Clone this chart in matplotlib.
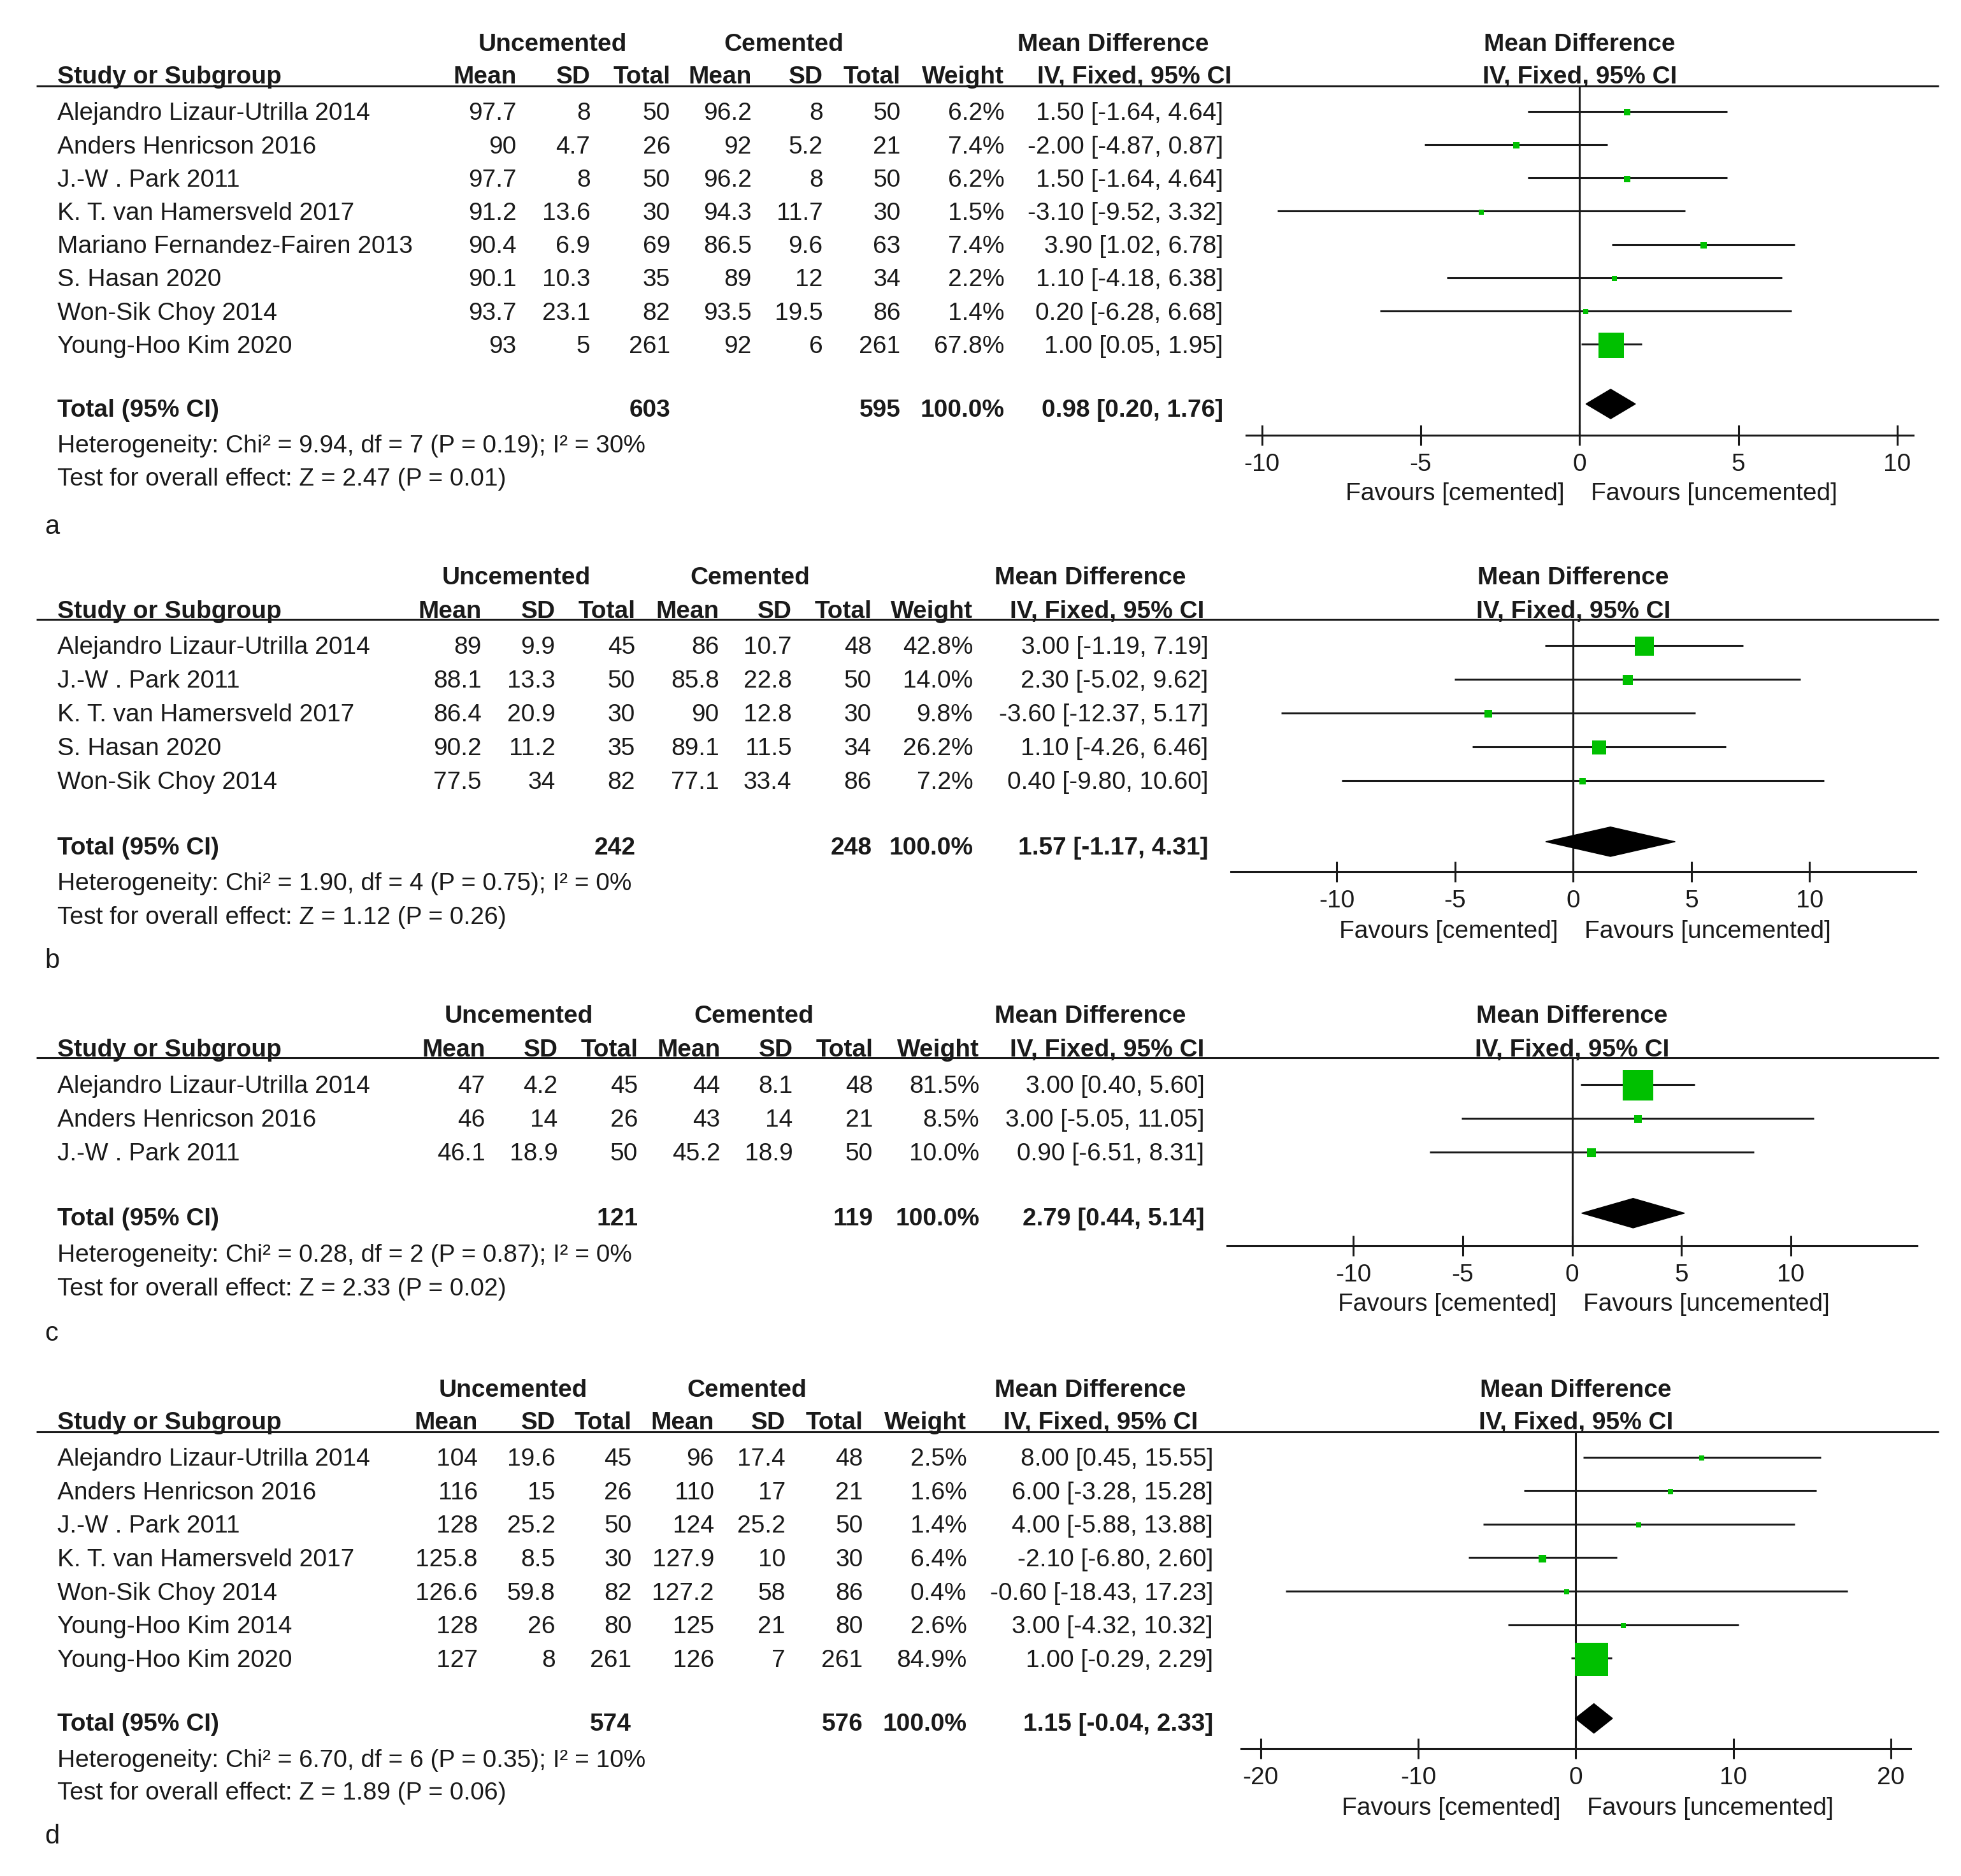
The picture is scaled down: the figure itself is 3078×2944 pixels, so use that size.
import matplotlib
matplotlib.use("Agg")
import matplotlib.pyplot as plt
from matplotlib.patches import Polygon

plt.rcParams['font.family'] = ['Liberation Sans', 'DejaVu Sans']
plt.rcParams['axes.unicode_minus'] = False

# ==========================
# DATA
# ==========================

# panel a
studies_a = ["Alejandro Lizaur-Utrilla 2014", "Anders Henricson 2016", "J.-W . Park 2011",
             "K. T. van Hamersveld 2017", "Mariano Fernandez-Fairen 2013", "S. Hasan 2020",
             "Won-Sik Choy 2014", "Young-Hoo Kim 2020"]
unc_mean_a = ["97.7", "90", "97.7", "91.2", "90.4", "90.1", "93.7", "93"]
unc_sd_a = ["8", "4.7", "8", "13.6", "6.9", "10.3", "23.1", "5"]
unc_n_a = [50, 26, 50, 30, 69, 35, 82, 261]
cem_mean_a = ["96.2", "92", "96.2", "94.3", "86.5", "89", "93.5", "92"]
cem_sd_a = ["8", "5.2", "8", "11.7", "9.6", "12", "19.5", "6"]
cem_n_a = [50, 21, 50, 30, 63, 34, 86, 261]
weight_a = [6.2, 7.4, 6.2, 1.5, 7.4, 2.2, 1.4, 67.8]
md_a = [1.50, -2.00, 1.50, -3.10, 3.90, 1.10, 0.20, 1.00]
lo_a = [-1.64, -4.87, -1.64, -9.52, 1.02, -4.18, -6.28, 0.05]
hi_a = [4.64, 0.87, 4.64, 3.32, 6.78, 6.38, 6.68, 1.95]
total_a = [603, 595, 0.98, 0.20, 1.76]
het_a = "Heterogeneity: Chi² = 9.94, df = 7 (P = 0.19); I² = 30%"
test_a = "Test for overall effect: Z = 2.47 (P = 0.01)"
ticks_a = [-10, -5, 0, 5, 10]

# panel b
studies_b = ["Alejandro Lizaur-Utrilla 2014", "J.-W . Park 2011", "K. T. van Hamersveld 2017",
             "S. Hasan 2020", "Won-Sik Choy 2014"]
unc_mean_b = ["89", "88.1", "86.4", "90.2", "77.5"]
unc_sd_b = ["9.9", "13.3", "20.9", "11.2", "34"]
unc_n_b = [45, 50, 30, 35, 82]
cem_mean_b = ["86", "85.8", "90", "89.1", "77.1"]
cem_sd_b = ["10.7", "22.8", "12.8", "11.5", "33.4"]
cem_n_b = [48, 50, 30, 34, 86]
weight_b = [42.8, 14.0, 9.8, 26.2, 7.2]
md_b = [3.00, 2.30, -3.60, 1.10, 0.40]
lo_b = [-1.19, -5.02, -12.37, -4.26, -9.80]
hi_b = [7.19, 9.62, 5.17, 6.46, 10.60]
total_b = [242, 248, 1.57, -1.17, 4.31]
het_b = "Heterogeneity: Chi² = 1.90, df = 4 (P = 0.75); I² = 0%"
test_b = "Test for overall effect: Z = 1.12 (P = 0.26)"
ticks_b = [-10, -5, 0, 5, 10]

# panel c
studies_c = ["Alejandro Lizaur-Utrilla 2014", "Anders Henricson 2016", "J.-W . Park 2011"]
unc_mean_c = ["47", "46", "46.1"]
unc_sd_c = ["4.2", "14", "18.9"]
unc_n_c = [45, 26, 50]
cem_mean_c = ["44", "43", "45.2"]
cem_sd_c = ["8.1", "14", "18.9"]
cem_n_c = [48, 21, 50]
weight_c = [81.5, 8.5, 10.0]
md_c = [3.00, 3.00, 0.90]
lo_c = [0.40, -5.05, -6.51]
hi_c = [5.60, 11.05, 8.31]
total_c = [121, 119, 2.79, 0.44, 5.14]
het_c = "Heterogeneity: Chi² = 0.28, df = 2 (P = 0.87); I² = 0%"
test_c = "Test for overall effect: Z = 2.33 (P = 0.02)"
ticks_c = [-10, -5, 0, 5, 10]

# panel d
studies_d = ["Alejandro Lizaur-Utrilla 2014", "Anders Henricson 2016", "J.-W . Park 2011",
             "K. T. van Hamersveld 2017", "Won-Sik Choy 2014", "Young-Hoo Kim 2014",
             "Young-Hoo Kim 2020"]
unc_mean_d = ["104", "116", "128", "125.8", "126.6", "128", "127"]
unc_sd_d = ["19.6", "15", "25.2", "8.5", "59.8", "26", "8"]
unc_n_d = [45, 26, 50, 30, 82, 80, 261]
cem_mean_d = ["96", "110", "124", "127.9", "127.2", "125", "126"]
cem_sd_d = ["17.4", "17", "25.2", "10", "58", "21", "7"]
cem_n_d = [48, 21, 50, 30, 86, 80, 261]
weight_d = [2.5, 1.6, 1.4, 6.4, 0.4, 2.6, 84.9]
md_d = [8.00, 6.00, 4.00, -2.10, -0.60, 3.00, 1.00]
lo_d = [0.45, -3.28, -5.88, -6.80, -18.43, -4.32, -0.29]
hi_d = [15.55, 15.28, 13.88, 2.60, 17.23, 10.32, 2.29]
total_d = [574, 576, 1.15, -0.04, 2.33]
het_d = "Heterogeneity: Chi² = 6.70, df = 6 (P = 0.35); I² = 10%"
test_d = "Test for overall effect: Z = 1.89 (P = 0.06)"
ticks_d = [-20, -10, 0, 10, 20]

col_heads = ["Mean", "SD", "Total", "Mean", "SD", "Total", "Weight"]

# ==========================
# LAYOUT (reference frame 1568 x 1500)
# ==========================

W, H = 1568.0, 1500.0
FS = 28
TXT = "#1a1a1a"
GREEN = "#00c000"
PX = 1.963  # output pixels per frame unit

fig = plt.figure(figsize=(30.78, 29.44), dpi=100)
base = fig.add_axes([0, 0, 1, 1])
base.set_xlim(0, W)
base.set_ylim(H, 0)
base.axis("off")


def txt(x, y, s, ha="left", bold=False, size=FS):
    # y is the visual centre of the text line
    base.text(x, y + 7, s, ha=ha, va="baseline", fontsize=size,
              fontweight="bold" if bold else "normal", color=TXT)


def panel(letter, studies, um, us, un, cm, cs, cn, wt, md, lo, hi, tot, het, test, ticks, L):
    y0 = L["group"]
    txt(L["unc"], y0, "Uncemented", ha="center", bold=True)
    txt(L["cem"], y0, "Cemented", ha="center", bold=True)
    txt(L["mdc"], y0, "Mean Difference", ha="center", bold=True)
    txt(L["zero"], y0, "Mean Difference", ha="center", bold=True)

    yh = L["head"]
    txt(46, yh, "Study or Subgroup", bold=True)
    for xr, name in zip(L["cols"], col_heads):
        txt(xr, yh, name, ha="right", bold=True)
    txt(L["ivc"], yh, "IV, Fixed, 95% CI", ha="center", bold=True)
    txt(L["zero"], yh, "IV, Fixed, 95% CI", ha="center", bold=True)

    base.plot([29, 1550], [L["line"], L["line"]], color=TXT, lw=2.2, solid_capstyle="butt")

    rows = [L["row0"] + i * L["step"] for i in range(len(studies))]
    for i, y in enumerate(rows):
        txt(46, y, studies[i])
        vals = [um[i], us[i], str(un[i]), cm[i], cs[i], str(cn[i]), f"{wt[i]:.1f}%"]
        for xr, v in zip(L["cols"], vals):
            txt(xr, y, v, ha="right")
        txt(L["cir"], y, f"{md[i]:.2f} [{lo[i]:.2f}, {hi[i]:.2f}]", ha="right")

    yt = L["total"]
    txt(46, yt, "Total (95% CI)", bold=True)
    txt(L["cols"][2], yt, str(tot[0]), ha="right", bold=True)
    txt(L["cols"][5], yt, str(tot[1]), ha="right", bold=True)
    txt(L["cols"][6], yt, "100.0%", ha="right", bold=True)
    txt(L["cir"], yt, f"{tot[2]:.2f} [{tot[3]:.2f}, {tot[4]:.2f}]", ha="right", bold=True)
    txt(46, L["het"], het)
    txt(46, L["test"], test)
    txt(36, L["letter"], letter, size=30)

    # forest plot axes
    half = L["half"]
    left = L["zero"] - half * L["pxu"]
    right = L["zero"] + half * L["pxu"]
    ax = fig.add_axes([left / W, 1 - L["axis"] / H, (right - left) / W,
                       (L["axis"] - L["line"]) / H])
    ax.patch.set_alpha(0)
    ax.set_xlim(-half, half)
    ax.set_ylim(L["axis"], L["line"])
    for s in ["top", "left", "right"]:
        ax.spines[s].set_visible(False)
    ax.spines["bottom"].set_linewidth(2.2)
    ax.spines["bottom"].set_color(TXT)
    ax.set_yticks([])
    ax.set_xticks(ticks)
    ax.set_xticklabels([str(t) for t in ticks], fontsize=FS, color=TXT)
    ax.tick_params(axis="x", direction="inout", length=23, width=2.2, color=TXT, pad=9)
    ax.axvline(0, color=TXT, lw=2.2, zorder=1)

    wmax = max(wt)
    for i, y in enumerate(rows):
        ax.plot([lo[i], hi[i]], [y, y], color=TXT, lw=2.2, solid_capstyle="butt", zorder=2)
        side = max(3.8, L["msize"] * (wt[i] / wmax) ** 0.6)
        s_pt = side * PX * 0.72
        ax.scatter([md[i]], [y + 0.8], s=s_pt ** 2, marker="s", color=GREEN,
                   linewidths=0, zorder=3)

    dh = 11.8
    yd = yt - 3
    ax.add_patch(Polygon([[tot[3], yd], [tot[2], yd - dh], [tot[4], yd], [tot[2], yd + dh]],
                         closed=True, color="black", zorder=3))

    txt(L["zero"] - 12, L["fav"], "Favours [cemented]", ha="right")
    txt(L["zero"] + 9, L["fav"], "Favours [uncemented]", ha="left")


lay_a = dict(group=34, head=60, line=69, row0=89, step=26.6, total=326, het=355, test=381,
             letter=420, axis=348, fav=393, cols=[413, 472, 536, 601, 658, 720, 803],
             cir=978, ivc=907, unc=442, cem=627, mdc=890, zero=1263, pxu=25.4, half=10.5,
             msize=20.5)
lay_b = dict(group=460, head=487, line=495, row0=516, step=27, total=676, het=705, test=732,
             letter=767, axis=697, fav=743, cols=[385, 444, 508, 575, 633, 697, 778],
             cir=966, ivc=885, unc=413, cem=600, mdc=872, zero=1258, pxu=18.9, half=14.5,
             msize=15.5)
lay_c = dict(group=811, head=838, line=846, row0=867, step=27, total=973, het=1002, test=1029,
             letter=1065, axis=996, fav=1041, cols=[388, 446, 510, 576, 634, 698, 783],
             cir=963, ivc=885, unc=415, cem=603, mdc=872, zero=1257, pxu=17.5, half=15.75,
             msize=24)
lay_d = dict(group=1110, head=1136, line=1145, row0=1165, step=26.8, total=1377, het=1406,
             test=1432, letter=1467, axis=1398, fav=1444, cols=[382, 444, 505, 571, 628, 690, 773],
             cir=970, ivc=880, unc=410, cem=597, mdc=872, zero=1260, pxu=12.6, half=21.25,
             msize=26.5)

panel("a", studies_a, unc_mean_a, unc_sd_a, unc_n_a, cem_mean_a, cem_sd_a, cem_n_a,
      weight_a, md_a, lo_a, hi_a, total_a, het_a, test_a, ticks_a, lay_a)
panel("b", studies_b, unc_mean_b, unc_sd_b, unc_n_b, cem_mean_b, cem_sd_b, cem_n_b,
      weight_b, md_b, lo_b, hi_b, total_b, het_b, test_b, ticks_b, lay_b)
panel("c", studies_c, unc_mean_c, unc_sd_c, unc_n_c, cem_mean_c, cem_sd_c, cem_n_c,
      weight_c, md_c, lo_c, hi_c, total_c, het_c, test_c, ticks_c, lay_c)
panel("d", studies_d, unc_mean_d, unc_sd_d, unc_n_d, cem_mean_d, cem_sd_d, cem_n_d,
      weight_d, md_d, lo_d, hi_d, total_d, het_d, test_d, ticks_d, lay_d)

fig.savefig("out.png", dpi=100, facecolor="white")
